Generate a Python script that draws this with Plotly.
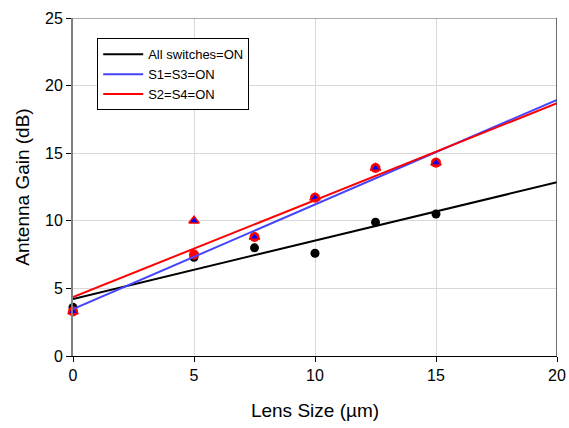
import numpy as np
import plotly.graph_objects as go

lens_size = [0, 5, 7.5, 10, 12.5, 15]
gain_all_on = [3.6, 7.3, 8.0, 7.6, 9.9, 10.5]
gain_s1s3 = [3.3, 7.5, 8.8, 11.7, 13.9, 14.3]
gain_s2s4 = [3.3, 10.0, 8.8, 11.7, 13.9, 14.3]
x_ticks = [0, 5, 10, 15, 20]
y_ticks = [0, 5, 10, 15, 20, 25]

x_line = np.array([0, 20])

def fit(y):
    m, b = np.polyfit(lens_size, y, 1)
    return m * x_line + b

fig = go.Figure()
# markers
fig.add_trace(go.Scatter(x=lens_size, y=gain_all_on, mode="markers", cliponaxis=False,
                         marker=dict(symbol="circle", size=9, color="black"),
                         showlegend=False))
fig.add_trace(go.Scatter(x=lens_size, y=gain_s1s3, mode="markers", cliponaxis=False,
                         marker=dict(symbol="circle", size=10, color="red"),
                         showlegend=False))
fig.add_trace(go.Scatter(x=lens_size, y=gain_s2s4, mode="markers", cliponaxis=False,
                         marker=dict(symbol="triangle-up", size=9, color="blue",
                                     line=dict(color="red", width=1.5)),
                         showlegend=False))
# trend lines
fig.add_trace(go.Scatter(x=x_line, y=fit(gain_all_on), mode="lines",
                         line=dict(color="black", width=2), name="All switches=ON"))
fig.add_trace(go.Scatter(x=x_line, y=fit(gain_s1s3), mode="lines",
                         line=dict(color="#4444ff", width=2), name="S1=S3=ON"))
fig.add_trace(go.Scatter(x=x_line, y=fit(gain_s2s4), mode="lines",
                         line=dict(color="red", width=2), name="S2=S4=ON"))

fig.update_layout(
    width=569, height=428,
    margin=dict(l=73, r=12, t=18, b=72),
    paper_bgcolor="white", plot_bgcolor="white",
    font=dict(family="Liberation Sans, Arial, sans-serif", size=16, color="black"),
    legend=dict(x=0.05, y=0.94, xanchor="left", yanchor="top",
                bordercolor="black", borderwidth=1, bgcolor="white",
                font=dict(size=13), tracegroupgap=0, itemwidth=40),
    xaxis=dict(range=[0, 20], tickvals=x_ticks, showgrid=True, gridcolor="#d9d9d9",
               gridwidth=1, showline=True, linecolor="black", linewidth=1,
               ticks="outside", ticklen=5, tickcolor="black", mirror=False,
               zeroline=False, automargin=False,
               title=dict(text="Lens Size (µm)", standoff=20)),
    yaxis=dict(range=[0, 25], tickvals=y_ticks, showgrid=True, gridcolor="#d9d9d9",
               gridwidth=1, showline=True, linecolor="#808080", linewidth=2,
               ticks="outside", ticklen=5, tickcolor="black",
               zeroline=False, automargin=False,
               title=dict(text="Antenna Gain (dB)", standoff=10)),
)
fig.add_shape(type="line", xref="x", yref="y", x0=0, x1=20, y0=25, y1=25,
              line=dict(color="#909090", width=1.5))
fig.add_shape(type="line", xref="x", yref="y", x0=20, x1=20, y0=0, y1=25,
              line=dict(color="#404040", width=1.5))

fig.write_html("out.html")
